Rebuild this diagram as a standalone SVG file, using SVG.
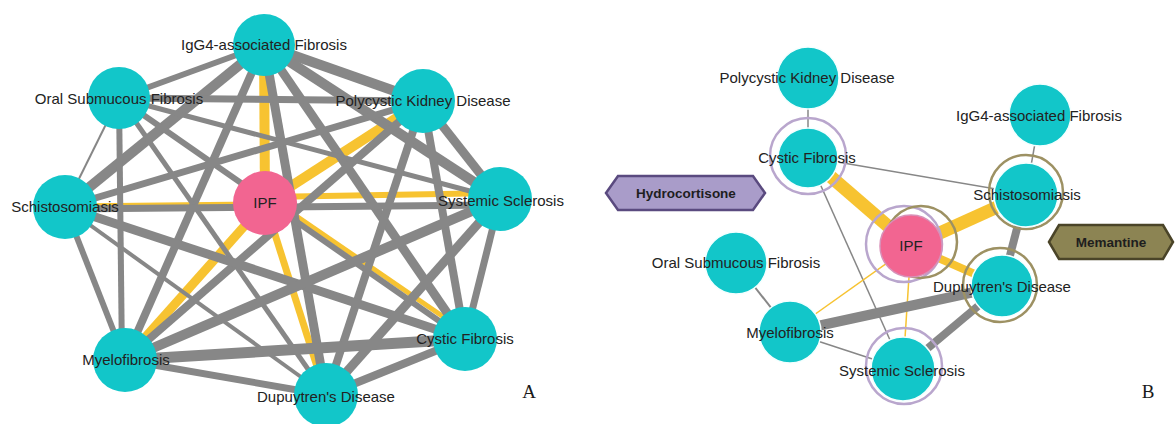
<svg xmlns="http://www.w3.org/2000/svg" width="1176" height="424" viewBox="0 0 1176 424">
  <style>
    .bg { fill: #ffffff; }
    .g { stroke: #878787; stroke-linecap: butt; fill: none; }
    .y { stroke: #f7c331; stroke-linecap: butt; fill: none; }
    .dz { fill: #12c6c9; }
    .dzr { fill: #12c6c9; stroke: #f4ffff; stroke-width: 1.5; }
    .ipf { fill: #f26591; }
    .ring-p { fill: none; stroke: #b9a6cd; stroke-width: 2.5; }
    .ring-o { fill: none; stroke: #9d9163; stroke-width: 2.5; }
    .lbl { font-family: "Liberation Sans", Arial, sans-serif; font-size: 15px; fill: #222222; text-anchor: middle; }
    .drug { font-family: "Liberation Sans", Arial, sans-serif; font-size: 13.5px; font-weight: bold; fill: #1e1e1e; text-anchor: middle; }
    .panel { font-family: "Liberation Serif", "Times New Roman", serif; font-size: 19px; fill: #1a1a1a; text-anchor: middle; }
  </style>
  <rect class="bg" x="0" y="0" width="1176" height="424"/>

  <!-- Panel A: disease similarity network -->
  <g id="edges-a">
    <!-- links from IPF -->
    <line class="y" x1="265" y1="203" x2="264" y2="45" stroke-width="10"/>
    <line class="y" x1="265" y1="203" x2="423" y2="101" stroke-width="10"/>
    <line class="y" x1="265" y1="197" x2="500" y2="193" stroke-width="6"/>
    <line class="y" x1="265" y1="203" x2="65" y2="205" stroke-width="3"/>
    <line class="y" x1="265" y1="203" x2="125" y2="360" stroke-width="9"/>
    <line class="y" x1="265" y1="203" x2="326" y2="395" stroke-width="7"/>
    <line class="y" x1="270" y1="198" x2="467" y2="333" stroke-width="5"/>
    <!-- links among the other diseases -->
    <line class="g" x1="264" y1="45" x2="119" y2="98" stroke-width="6"/>
    <line class="g" x1="264" y1="45" x2="423" y2="101" stroke-width="10"/>
    <line class="g" x1="264" y1="45" x2="65" y2="207" stroke-width="10"/>
    <line class="g" x1="264" y1="45" x2="500" y2="199" stroke-width="10"/>
    <line class="g" x1="264" y1="45" x2="125" y2="360" stroke-width="8"/>
    <line class="g" x1="264" y1="45" x2="465" y2="339" stroke-width="9"/>
    <line class="g" x1="264" y1="45" x2="326" y2="395" stroke-width="9"/>
    <line class="g" x1="119" y1="98" x2="423" y2="101" stroke-width="7"/>
    <line class="g" x1="119" y1="98" x2="65" y2="207" stroke-width="2"/>
    <line class="g" x1="119" y1="98" x2="122" y2="360" stroke-width="6"/>
    <line class="g" x1="119" y1="98" x2="500" y2="199" stroke-width="5"/>
    <line class="g" x1="119" y1="98" x2="465" y2="339" stroke-width="6"/>
    <line class="g" x1="119" y1="98" x2="326" y2="395" stroke-width="5"/>
    <line class="g" x1="423" y1="101" x2="65" y2="207" stroke-width="7"/>
    <line class="g" x1="423" y1="101" x2="125" y2="360" stroke-width="8"/>
    <line class="g" x1="423" y1="101" x2="500" y2="199" stroke-width="9"/>
    <line class="g" x1="423" y1="101" x2="465" y2="339" stroke-width="8"/>
    <line class="g" x1="423" y1="101" x2="326" y2="395" stroke-width="8"/>
    <line class="g" x1="65" y1="209" x2="500" y2="205" stroke-width="7"/>
    <line class="g" x1="65" y1="207" x2="125" y2="360" stroke-width="6"/>
    <line class="g" x1="65" y1="207" x2="465" y2="339" stroke-width="9"/>
    <line class="g" x1="65" y1="207" x2="326" y2="395" stroke-width="4"/>
    <line class="g" x1="125" y1="360" x2="500" y2="199" stroke-width="10"/>
    <line class="g" x1="125" y1="360" x2="465" y2="339" stroke-width="11"/>
    <line class="g" x1="125" y1="360" x2="326" y2="395" stroke-width="7"/>
    <line class="g" x1="500" y1="199" x2="465" y2="339" stroke-width="7"/>
    <line class="g" x1="500" y1="199" x2="326" y2="395" stroke-width="9"/>
    <line class="g" x1="465" y1="339" x2="326" y2="395" stroke-width="8"/>
  </g>

  <g id="a-igg4"><circle class="dz" cx="264" cy="45" r="31"/><text class="lbl" x="264" y="50">IgG4-associated Fibrosis</text></g>
  <g id="a-oral"><circle class="dz" cx="119" cy="98" r="31"/><text class="lbl" x="119" y="104">Oral Submucous Fibrosis</text></g>
  <g id="a-polycystic"><circle class="dz" cx="423" cy="101" r="32"/><text class="lbl" x="423" y="106">Polycystic Kidney Disease</text></g>
  <g id="a-schisto"><circle class="dz" cx="65" cy="207" r="32"/><text class="lbl" x="65" y="212">Schistosomiasis</text></g>
  <g id="a-ipf"><circle class="ipf" cx="265" cy="203" r="32"/><text class="lbl" x="265" y="208">IPF</text></g>
  <g id="a-ssc"><circle class="dz" cx="500" cy="199" r="32"/><text class="lbl" x="501" y="206">Systemic Sclerosis</text></g>
  <g id="a-myelo"><circle class="dz" cx="125" cy="360" r="32"/><text class="lbl" x="126" y="365">Myelofibrosis</text></g>
  <g id="a-cf"><circle class="dz" cx="465" cy="339" r="32"/><text class="lbl" x="465" y="344">Cystic Fibrosis</text></g>
  <g id="a-dupuytren"><circle class="dz" cx="326" cy="395" r="32"/><text class="lbl" x="326" y="402">Dupuytren's Disease</text></g>
  <text class="panel" x="529" y="398">A</text>

  <!-- Panel B: IPF neighbourhood with drug targets -->
  <g id="edges-b">
    <line class="g" x1="808" y1="78" x2="808" y2="157" stroke-width="1.5"/>
    <line class="g" x1="1040" y1="115" x2="1026" y2="194" stroke-width="1.5"/>
    <line class="g" x1="808" y1="157" x2="1026" y2="194" stroke-width="1.5"/>
    <line class="g" x1="808" y1="157" x2="903" y2="369" stroke-width="1.5"/>
    <line class="y" x1="808" y1="157" x2="911" y2="246" stroke-width="13"/>
    <line class="y" x1="911" y1="246" x2="1026" y2="194" stroke-width="13"/>
    <line class="y" x1="911" y1="246" x2="1002" y2="286" stroke-width="8"/>
    <line class="y" x1="911" y1="246" x2="790" y2="332" stroke-width="1.5"/>
    <line class="y" x1="911" y1="246" x2="903" y2="369" stroke-width="1.5"/>
    <line class="g" x1="1026" y1="194" x2="1002" y2="286" stroke-width="8"/>
    <line class="g" x1="790" y1="332" x2="1002" y2="286" stroke-width="10"/>
    <line class="g" x1="1002" y1="286" x2="903" y2="369" stroke-width="8"/>
    <line class="g" x1="736" y1="263" x2="790" y2="332" stroke-width="2"/>
    <line class="g" x1="790" y1="332" x2="903" y2="369" stroke-width="1.5"/>
  </g>

  <g id="b-hydrocortisone">
    <polygon points="606,193 618,176 753,176 765,193 753,210 618,210" fill="#a99cc9" stroke="#5a4a7f" stroke-width="2.5"/>
    <text class="drug" x="686" y="198">Hydrocortisone</text>
  </g>
  <g id="b-memantine">
    <polygon points="1049,242 1059,225 1163,225 1173,242 1163,259 1059,259" fill="#8c8453" stroke="#4a4428" stroke-width="2.5"/>
    <text class="drug" x="1111" y="247">Memantine</text>
  </g>

  <g id="b-polycystic"><circle class="dzr" cx="808" cy="78" r="31"/><text class="lbl" x="807" y="83">Polycystic Kidney Disease</text></g>
  <g id="b-cf"><circle class="ring-p" cx="808" cy="156" r="38"/><circle class="dzr" cx="808" cy="158" r="30"/><text class="lbl" x="807" y="163">Cystic Fibrosis</text></g>
  <g id="b-igg4"><circle class="dzr" cx="1040" cy="115" r="31"/><text class="lbl" x="1039" y="121">IgG4-associated Fibrosis</text></g>
  <g id="b-schisto"><circle class="ring-o" cx="1026" cy="192" r="37"/><circle class="dzr" cx="1026" cy="195" r="32"/><text class="lbl" x="1027" y="200">Schistosomiasis</text></g>
  <g id="b-ipf"><circle class="ring-p" cx="904" cy="244" r="38"/><circle class="ring-o" cx="921" cy="242" r="36"/><circle class="ipf" cx="911" cy="246" r="31" stroke="#d890b8" stroke-width="1.5"/><text class="lbl" x="911" y="251">IPF</text></g>
  <g id="b-dupuytren"><circle class="ring-o" cx="1000" cy="285" r="37"/><circle class="dzr" cx="1002" cy="286" r="31"/><text class="lbl" x="1002" y="292">Dupuytren's Disease</text></g>
  <g id="b-oral"><circle class="dzr" cx="736" cy="263" r="31"/><text class="lbl" x="736" y="268">Oral Submucous Fibrosis</text></g>
  <g id="b-myelo"><circle class="dzr" cx="790" cy="332" r="31"/><text class="lbl" x="790" y="338">Myelofibrosis</text></g>
  <g id="b-ssc"><circle class="ring-p" cx="904" cy="366" r="38"/><circle class="dzr" cx="903" cy="369" r="32"/><text class="lbl" x="902" y="376">Systemic Sclerosis</text></g>
  <text class="panel" x="1148" y="398">B</text>
</svg>
